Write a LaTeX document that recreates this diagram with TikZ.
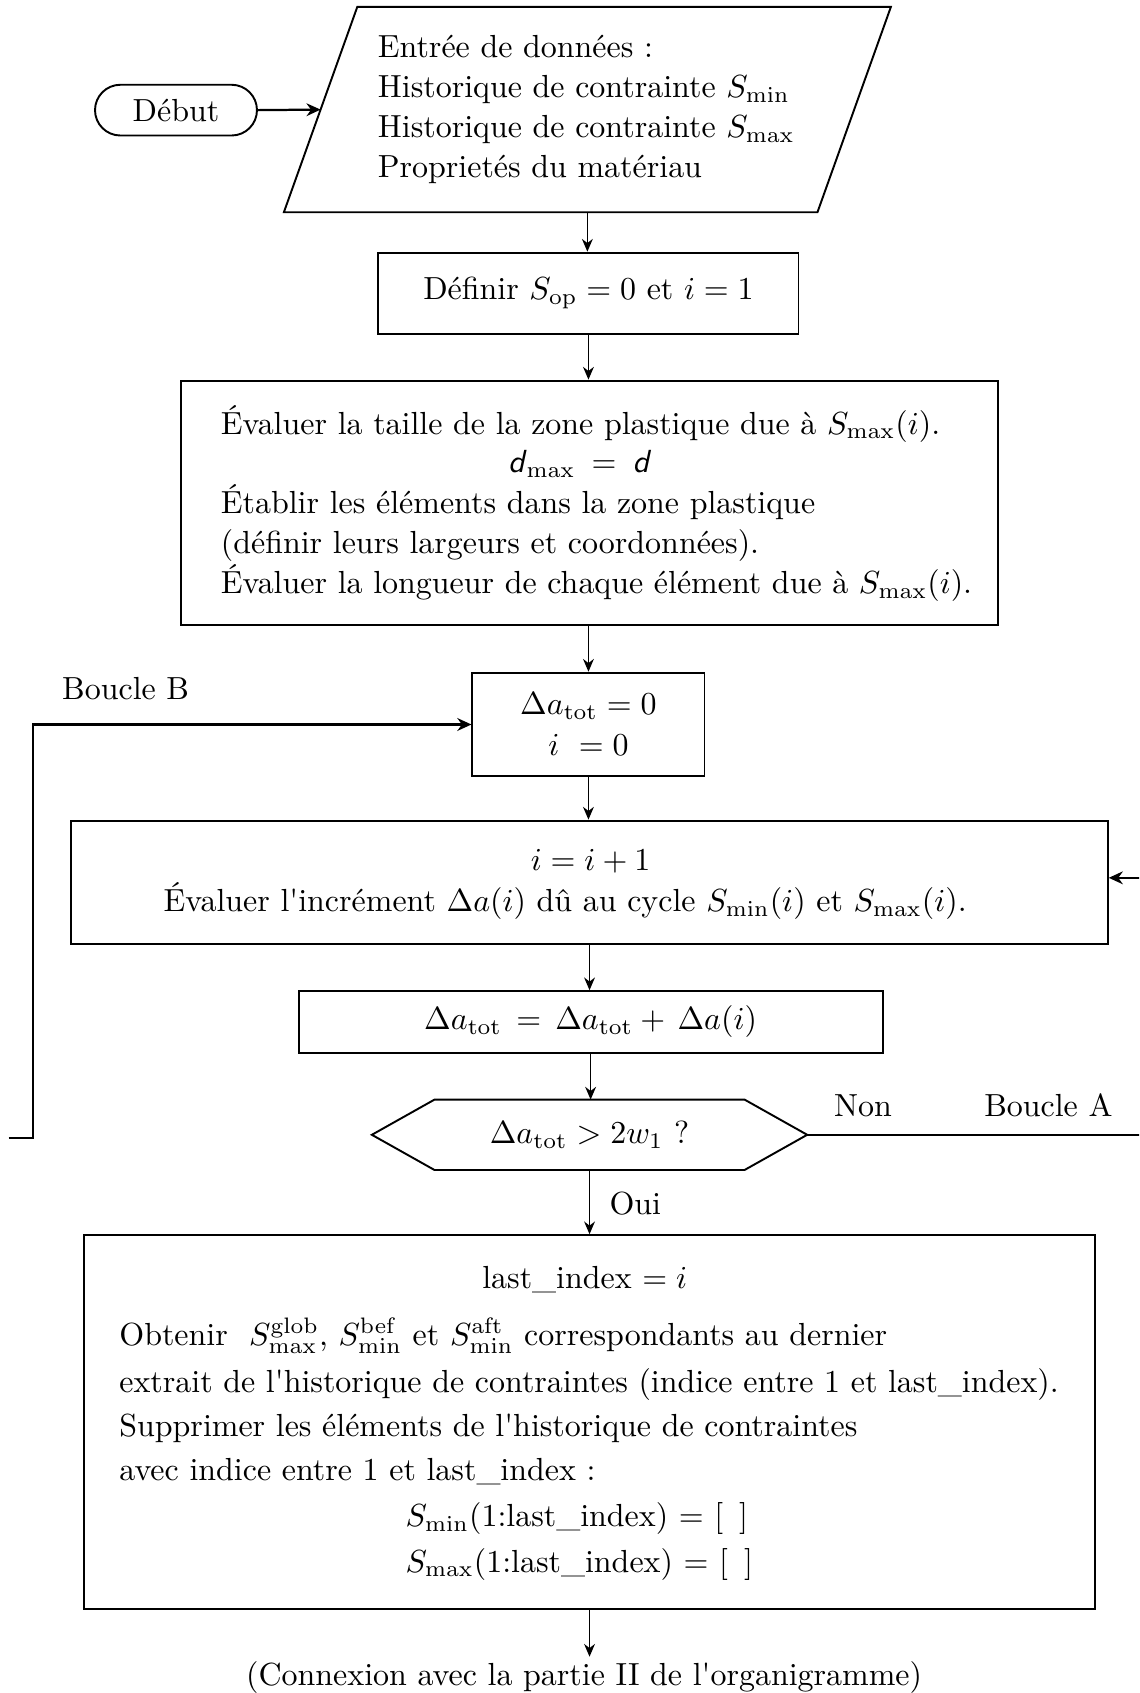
\documentclass[tikz,border=0pt]{standalone}
\usetikzlibrary{arrows.meta,shapes.misc,calc}
\def\pxu{0.3378pt}
\begin{document}
\begin{tikzpicture}[x=0.3378pt,y=-0.3378pt,
  box/.style={draw, line width=0.6pt, rectangle, inner sep=0pt},
  flow/.style={line width=0.4pt, -{Stealth[length=4pt,width=3.4pt]}},
  loopln/.style={line width=0.7pt, -{Stealth[length=4.4pt,width=4pt]}},
  txt/.style={inner sep=0pt},
]
\path[use as bounding box, clip] (0,0) rectangle (1055,1568);

% start
\node[rounded rectangle, draw, line width=0.6pt, minimum width=150*\pxu, minimum height=47*\pxu, inner sep=0pt] (start) at (163,102) {Début};

% input parallelogram
\node[txt, minimum width=493*\pxu, minimum height=189*\pxu, text width=388*\pxu, align=left] (inp) at (544,101.5)
  {Entrée de données :\\[0.5pt] Historique de contrainte $S_{\min}$\\[0.5pt] Historique de contrainte $S_{\max}$\\[0.5pt] Proprietés du matériau};
\draw[line width=0.6pt] ($(inp.south west)+(-34,0)$) -- ($(inp.south east)+(-34,0)$) -- ($(inp.north east)+(34,0)$) -- ($(inp.north west)+(34,0)$) -- cycle;

% define
\node[box, minimum width=389*\pxu, minimum height=75*\pxu] (def) at (545,271.5) {Définir $S_{\mathrm{op}} = 0$ et $i = 1$};

% evaluation box
\node[box, minimum width=756*\pxu, minimum height=226*\pxu] (eval) at (546,465.5) {};
\node[txt, anchor=base west] (e1) at (204,402) {Évaluer la taille de la zone plastique due à $S_{\max}(i)$.};
\node[txt, anchor=base west] (e2) at (470,438) {\textsf{\textit{d}}$_{\max}$\hspace{1.7pt} \textsf{=}\hspace{1.7pt} \textsf{\textit{d}}};
\node[txt, anchor=base west] (e3) at (204,476) {Établir les éléments dans la zone plastique};
\node[txt, anchor=base west] (e4) at (204,513) {(définir leurs largeurs et coordonnées).};
\node[txt, anchor=base west] (e5) at (204,550) {Évaluer la longueur de chaque élément due à $S_{\max}(i)$.};

% init
\node[box, minimum width=215*\pxu, minimum height=96*\pxu, align=center] (z) at (545,671)
  {$\Delta a_{\mathrm{tot}} = 0$\\[0.8pt] $i\ = 0$};

% increment
\node[box, minimum width=960*\pxu, minimum height=114*\pxu] (inc) at (546,817) {};
\node[txt, anchor=base] (i1) at (547,806) {$i = i+1$};
\node[txt, anchor=base west] (i2) at (151,844) {Évaluer l\textquotesingle incrément $\Delta a(i)$ dû au cycle $S_{\min}(i)$ et $S_{\max}(i)$.};

% update
\node[box, minimum width=541*\pxu, minimum height=57*\pxu] (upd) at (547,946.5)
  {$\Delta a_{\mathrm{tot}} \,=\, \Delta a_{\mathrm{tot}} +\, \Delta a(i)$};

% decision hexagon
\node[txt, minimum width=286*\pxu, minimum height=64*\pxu] (dec) at (546,1051) {$\Delta a_{\mathrm{tot}} > 2w_1$ ?};
\coordinate (decR) at ($(dec.east)+(58,0)$);
\coordinate (decL) at ($(dec.west)+(-58,0)$);
\draw[line width=0.6pt] (dec.north west) -- (dec.north east) -- (decR) -- (dec.south east) -- (dec.south west) -- (decL) -- cycle;

% last box
\node[box, minimum width=937*\pxu, minimum height=346*\pxu] (last) at (546,1317) {};
\node[txt, anchor=base] (l1) at (541.5,1193) {last\_index $= i$};
\node[txt, anchor=base west] (l2) at (110,1246) {Obtenir\ \ $S^{\mathrm{glob}}_{\max}$, $S^{\mathrm{bef}}_{\min}$ et $S^{\mathrm{aft}}_{\min}$ correspondants au dernier};
\node[txt, anchor=base west] (l3) at (110,1290) {extrait de l\textquotesingle historique de contraintes (indice entre 1 et last\_index).};
\node[txt, anchor=base west] (l4) at (110,1330) {Supprimer les éléments de l\textquotesingle historique de contraintes};
\node[txt, anchor=base west] (l5) at (110,1371) {avec indice entre 1 et last\_index :};
\node[txt, anchor=base west] (l6) at (375,1414) {$S_{\min}$(1:last\_index) = [\hspace{5pt}]};
\node[txt, anchor=base west] (l7) at (375,1456) {$S_{\max}$(1:last\_index) = [\hspace{5pt}]};

% connection text
\node[inner sep=1.3pt, anchor=base] (conn) at (541,1561) {(Connexion avec la partie II de l\textquotesingle organigramme)};

% labels
\node[txt, anchor=base west] (lbB) at (57,647.6) {Boucle B};
\node[txt, anchor=base west] (lnon) at (772,1034) {Non};
\node[txt, anchor=base west] (lbA) at (911,1034) {Boucle A};
\node[txt, anchor=base west] (loui) at (564,1125) {Oui};

% connectors
\draw[loopln] (start.east) -- (inp.west);
\draw[flow] (inp.south) -- (inp.south |- def.north);
\draw[flow] (def.south) -- (def.south |- eval.north);
\draw[flow] (eval.south) -- (eval.south -| z.north) -- (z.north);
\draw[flow] (z.south) -- (z.south |- inc.north);
\draw[flow] (inc.south) -- (inc.south |- upd.north);
\draw[flow] (upd.south) -- (upd.south |- dec.north);
\draw[flow] (dec.south) -- (dec.south |- last.north);
\draw[flow] (last.south) -- (last.south |- conn.north);

% loops
\coordinate (bB) at (8,1054);
\draw[loopln] (bB) -- (30.5,1054) |- (z.west);
\draw[loopln] (decR) -- (1100,1051) |- ([yshift=4*\pxu]inc.east);
\end{tikzpicture}
\end{document}
